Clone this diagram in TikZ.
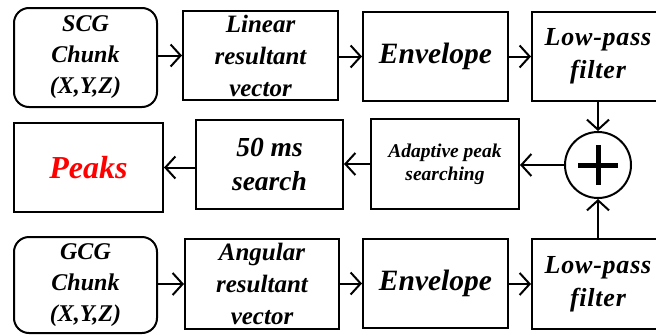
\documentclass[tikz,border=0pt]{standalone}
\usepackage{fontspec}
\setmainfont{Liberation Serif}
\newfontfamily\widefam[LetterSpace=3]{Liberation Serif}
\usetikzlibrary{arrows.meta,calc}
\newcommand{\lowtxt}[1]{\raisebox{-4pt}{#1}}
\tikzset{
  box/.style={draw, line width=2pt, rectangle, align=center, inner sep=0pt,
    font=\fontsize{24}{31}\selectfont\bfseries\itshape},
  rbox/.style={box, rounded corners=15pt},
  lpfont/.style={font=\fontsize{26}{33}\selectfont\widefam\bfseries\itshape},
  vecfont/.style={font=\fontsize{25}{32}\selectfont\bfseries\itshape},
  envfont/.style={font=\fontsize{29.5}{33}\selectfont\bfseries\itshape},
  conn/.style={line width=2pt, -{Straight Barb[length=10pt,width=22pt,line width=2pt]}},
}
\begin{document}
\begin{tikzpicture}[x=1pt,y=-1pt]
\useasboundingbox (0,0) rectangle (656,335);
\clip (0,0) rectangle (656,335);
% top row
\node[rbox, minimum width=143pt, minimum height=99pt] (scg) at (85.5,57.5) {SCG\\Chunk\\(X,Y,Z)};
\node[box, vecfont, minimum width=155pt, minimum height=89pt] (lin) at (260.5,55.5) {Linear\\resultant\\vector};
\node[box, envfont, minimum width=145pt, minimum height=89pt] (env1) at (435.5,56.5) {Envelope};
\node[box, lpfont, minimum width=132pt, minimum height=89pt] (lp1) at (598,56.5) {\lowtxt{Low-pass}\\\lowtxt{filter}};
% middle row
\node[box, minimum width=149pt, minimum height=89pt, text=red, font=\fontsize{32}{34}\selectfont\bfseries\itshape] (peaks) at (88.5,167.5) {Peaks};
\node[box, minimum width=147pt, minimum height=89pt, font=\fontsize{27.5}{34}\selectfont\bfseries\itshape] (s50) at (269.5,164.5) {50 ms\\search};
\node[box, minimum width=148pt, minimum height=90pt, font=\fontsize{19.5}{23}\selectfont\bfseries\itshape] (adp) at (445,164) {Adaptive peak\\searching};
\node[draw, circle, line width=2pt, minimum size=66pt, inner sep=0pt] (sum) at (598,165) {};
\draw[line width=5pt] ($(sum.center)+(-20,0)$) -- ($(sum.center)+(20,0)$);
\draw[line width=5pt] ($(sum.center)+(0,-20)$) -- ($(sum.center)+(0,20)$);
% bottom row
\node[rbox, minimum width=143pt, minimum height=96pt] (gcg) at (85.5,285) {GCG\\Chunk\\(X,Y,Z)};
\node[box, vecfont, minimum width=154pt, minimum height=90pt] (ang) at (262,284) {Angular\\resultant\\vector};
\node[box, envfont, minimum width=145pt, minimum height=89pt] (env2) at (435.5,283.5) {Envelope};
\node[box, lpfont, minimum width=132pt, minimum height=90pt] (lp2) at (598,284) {\lowtxt{Low-pass}\\\lowtxt{filter}};
% connectors
\draw[conn] (scg.east |- lin.west) -- (lin.west);
\draw[conn] (lin.east |- env1.west) -- (env1.west);
\draw[conn] (env1.east |- lp1.west) -- (lp1.west);
\draw[conn] (gcg.east |- ang.west) -- (ang.west);
\draw[conn] (ang.east |- env2.west) -- (env2.west);
\draw[conn] (env2.east |- lp2.west) -- (lp2.west);
\draw[conn] (lp1.south -| sum.north) -- (sum.north);
\draw[conn] (lp2.north -| sum.south) -- (sum.south);
\draw[conn] (sum.west) -- (adp.east |- sum.west);
\draw[conn] (adp.west) -- (s50.east |- adp.west);
\draw[conn] (s50.west |- peaks.east) -- (peaks.east);
\end{tikzpicture}
\end{document}
